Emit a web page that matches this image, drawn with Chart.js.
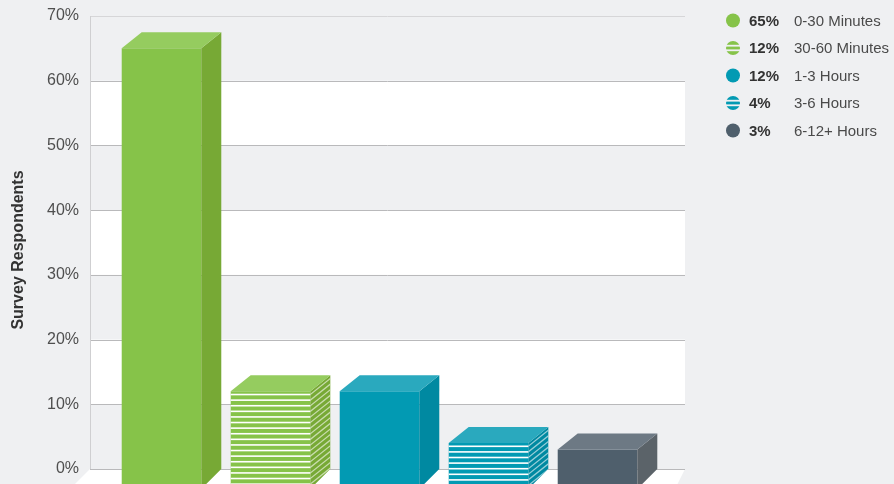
<!DOCTYPE html>
<html>
<head>
<meta charset="utf-8">
<script src="https://cdn.jsdelivr.net/npm/chart.js@4"></script>
<style>
  html, body { margin: 0; padding: 0; background: #eff0f2; }
  #wrap { width: 894px; height: 484px; position: relative; }
</style>
</head>
<body>
<div id="wrap"><canvas id="responseChart" width="894" height="484"></canvas></div>
<script>
// Response time survey data
const categories = ['0-30 Minutes', '30-60 Minutes', '1-3 Hours', '3-6 Hours', '6-12+ Hours'];
const respondents = [65, 12, 12, 4, 3];
const striped = [false, true, false, true, false];
const yTicks = [0, 10, 20, 30, 40, 50, 60, 70];

// front / top / side shades for each bar
const frontColors = ['#86c349', '#86c349', '#029ab3', '#029ab3', '#4f5f6c'];
const topColors = ['#95cc5f', '#95cc5f', '#2aa9be', '#2aa9be', '#6d7984'];
const sideColors = ['#77a935', '#77a935', '#0089a1', '#0089a1', '#5b6369'];

const DEPTH_X = 20;
const DEPTH_Y = 16;
const WALL_LEFT = 90;
const WALL_RIGHT = 685;
const STRIPE_PERIOD = 5.6;
const STRIPE_WHITE = 1.6;

const wallPlugin = {
  id: 'wall',
  beforeDatasetsDraw(chart) {
    const { ctx } = chart;
    const y = chart.scales.y;
    const y0 = y.getPixelForValue(0);
    const yTop = y.getPixelForValue(yTicks[yTicks.length - 1]);
    ctx.save();

    // alternating white bands on the back wall
    ctx.fillStyle = '#ffffff';
    for (let i = 1; i < yTicks.length - 1; i += 2) {
      const a = y.getPixelForValue(yTicks[i]);
      const b = y.getPixelForValue(yTicks[i + 1]);
      ctx.fillRect(WALL_LEFT, b, WALL_RIGHT - WALL_LEFT, a - b);
    }

    // floor
    ctx.beginPath();
    ctx.moveTo(WALL_LEFT, y0);
    ctx.lineTo(WALL_RIGHT, y0);
    ctx.lineTo(WALL_RIGHT - 8, y0 + 16);
    ctx.lineTo(WALL_LEFT - 16, y0 + 16);
    ctx.closePath();
    ctx.fill();

    // grid lines
    ctx.lineWidth = 1;
    yTicks.forEach((t, i) => {
      const py = Math.round(y.getPixelForValue(t)) + 0.5;
      ctx.strokeStyle = i === yTicks.length - 1 ? '#d6d6d8' : '#b9b9bb';
      ctx.beginPath();
      ctx.moveTo(WALL_LEFT, py);
      ctx.lineTo(WALL_RIGHT, py);
      ctx.stroke();
    });

    // left edge of the wall
    ctx.strokeStyle = '#cfcfd1';
    ctx.beginPath();
    ctx.moveTo(WALL_LEFT + 0.5, yTop);
    ctx.lineTo(WALL_LEFT + 0.5, y0);
    ctx.stroke();
    ctx.restore();
  },
  afterDatasetsDraw(chart) {
    const { ctx } = chart;
    const y = chart.scales.y;
    const y0 = y.getPixelForValue(0);
    const meta = chart.getDatasetMeta(0);
    ctx.save();
    meta.data.forEach((bar, i) => {
      const L = bar.x - bar.width / 2;
      const R = bar.x + bar.width / 2;
      const top = bar.y;
      const bottom = bar.base;

      // side face
      ctx.fillStyle = sideColors[i];
      ctx.beginPath();
      ctx.moveTo(R, top);
      ctx.lineTo(R + DEPTH_X, top - DEPTH_Y);
      ctx.lineTo(R + DEPTH_X, y0);
      ctx.lineTo(R, y0 + DEPTH_Y + 4);
      ctx.closePath();
      ctx.fill();

      if (striped[i]) {
        ctx.save();
        ctx.clip();
        ctx.fillStyle = 'rgba(255,255,255,0.6)';
        for (let s = top + 2.4; s < bottom + DEPTH_Y; s += STRIPE_PERIOD) {
          ctx.beginPath();
          ctx.moveTo(R, s);
          ctx.lineTo(R + DEPTH_X, s - DEPTH_Y);
          ctx.lineTo(R + DEPTH_X, s - DEPTH_Y + STRIPE_WHITE);
          ctx.lineTo(R, s + STRIPE_WHITE);
          ctx.closePath();
          ctx.fill();
        }
        ctx.restore();

        // white bands across the front face
        ctx.fillStyle = '#ffffff';
        for (let s = top + 2.4; s < bottom; s += STRIPE_PERIOD) {
          ctx.fillRect(L, s, R - L, STRIPE_WHITE);
        }
      }

      // top face
      ctx.fillStyle = topColors[i];
      ctx.beginPath();
      ctx.moveTo(L, top);
      ctx.lineTo(L + DEPTH_X, top - DEPTH_Y);
      ctx.lineTo(R + DEPTH_X, top - DEPTH_Y);
      ctx.lineTo(R, top);
      ctx.closePath();
      ctx.fill();
    });
    ctx.restore();
  },
  afterDraw(chart) {
    const { ctx } = chart;
    const cx = 733;
    const rowY = [20.5, 48, 75.5, 103, 130.5];
    ctx.save();
    ctx.textBaseline = 'middle';
    categories.forEach((label, i) => {
      const cy = rowY[i];
      ctx.fillStyle = frontColors[i];
      ctx.beginPath();
      ctx.arc(cx, cy, 7, 0, Math.PI * 2);
      ctx.fill();
      if (striped[i]) {
        ctx.fillStyle = '#eff0f2';
        ctx.fillRect(cx - 8, cy - 3.2, 16, 1.8);
        ctx.fillRect(cx - 8, cy + 1.4, 16, 1.8);
      }
      ctx.fillStyle = '#333333';
      ctx.font = 'bold 15px "Liberation Sans", Arial, sans-serif';
      ctx.fillText(respondents[i] + '%', 749, cy + 1);
      ctx.fillStyle = '#4a4a4a';
      ctx.font = '15px "Liberation Sans", Arial, sans-serif';
      ctx.fillText(label, 794, cy + 1);
    });
    ctx.restore();
  }
};

const ctx = document.getElementById('responseChart').getContext('2d');
new Chart(ctx, {
  type: 'bar',
  data: {
    labels: categories,
    datasets: [{
      data: respondents,
      backgroundColor: frontColors,
      borderWidth: 0,
      base: -2.32,
      categoryPercentage: 1,
      barPercentage: 0.73
    }]
  },
  options: {
    responsive: false,
    animation: false,
    devicePixelRatio: 1,
    layout: { padding: { left: 0, right: 242, top: 16, bottom: 0 } },
    plugins: {
      legend: { display: false },
      tooltip: { enabled: false }
    },
    scales: {
      x: { display: false },
      y: {
        min: -2.32,
        max: 70,
        grid: { display: false, drawTicks: false },
        border: { display: false },
        afterFit(scale) {
          scale.width = 107;
          scale.paddingTop = 0;
          scale.paddingBottom = 0;
        },
        afterBuildTicks(scale) { scale.ticks = yTicks.map(v => ({ value: v })); },
        ticks: {
          padding: 28,
          color: '#4f4f4f',
          font: { family: '"Liberation Sans", Arial, sans-serif', size: 16 },
          callback: v => v + '%'
        },
        title: {
          display: true,
          text: 'Survey Respondents',
          color: '#333333',
          padding: { top: 9, bottom: 0 },
          font: { family: '"Liberation Sans", Arial, sans-serif', size: 16, weight: 'bold' }
        }
      }
    }
  },
  plugins: [wallPlugin]
});
</script>
</body>
</html>
